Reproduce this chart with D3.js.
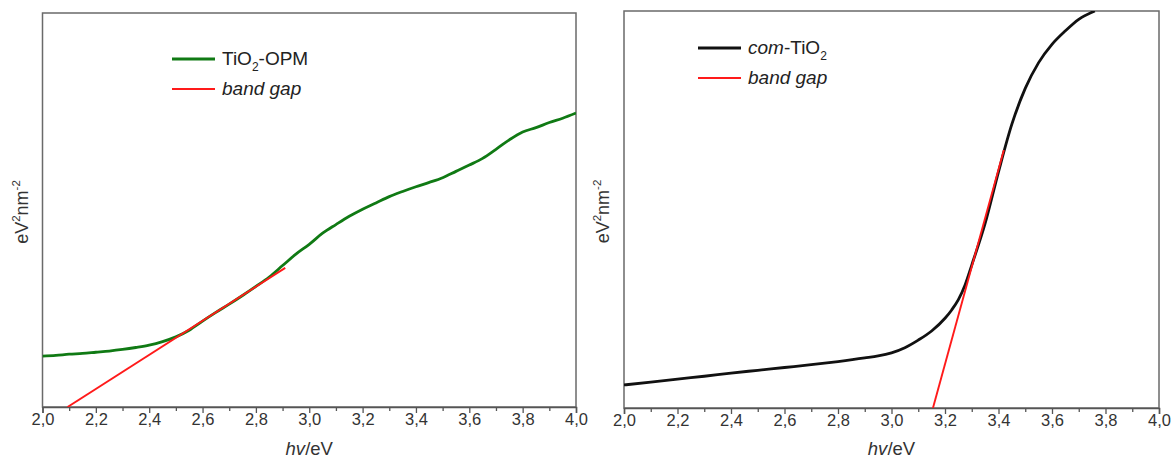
<!DOCTYPE html>
<html>
<head>
<meta charset="utf-8">
<script src="https://cdn.jsdelivr.net/npm/d3@7"></script>
<style>
  html, body { margin: 0; padding: 0; background: #fff; }
  svg { display: block; font-family: "Liberation Sans", Arial, sans-serif; }
</style>
</head>
<body>
<svg id="chart" width="1174" height="459"></svg>
<script>
// Photon energy (eV) and Tauc-plot intensity, arbitrary units (0–100 of the plot height)
const opmEnergy = [2.00, 2.05, 2.10, 2.15, 2.20, 2.25, 2.30, 2.35, 2.40, 2.45, 2.50, 2.55, 2.60, 2.65, 2.70, 2.75, 2.80, 2.85, 2.90, 2.95, 3.00, 3.05, 3.10, 3.15, 3.20, 3.25, 3.30, 3.35, 3.40, 3.45, 3.50, 3.55, 3.60, 3.65, 3.70, 3.75, 3.80, 3.85, 3.90, 3.95, 4.00];
const opmValue  = [12.9, 13.1, 13.4, 13.6, 13.9, 14.2, 14.6, 15.1, 15.7, 16.6, 17.8, 19.5, 21.8, 24.0, 26.1, 28.3, 30.6, 33.0, 35.9, 38.8, 41.3, 44.1, 46.3, 48.4, 50.2, 51.8, 53.4, 54.7, 55.9, 57.0, 58.2, 59.8, 61.4, 63.1, 65.4, 67.8, 69.8, 70.9, 72.2, 73.3, 74.6];
const opmGapEnergy = [2.094, 2.91];
const opmGapValue  = [0, 35.3];

const comEnergy = [2.00, 2.10, 2.20, 2.30, 2.40, 2.50, 2.60, 2.70, 2.80, 2.90, 2.95, 3.00, 3.05, 3.10, 3.15, 3.20, 3.225, 3.25, 3.275, 3.30, 3.35, 3.40, 3.45, 3.50, 3.55, 3.60, 3.65, 3.70, 3.76];
const comValue  = [5.8, 6.5, 7.3, 8.0, 8.8, 9.5, 10.2, 10.9, 11.7, 12.6, 13.1, 13.9, 15.2, 17.1, 19.4, 22.6, 24.7, 27.3, 31.0, 36.0, 46.5, 59.5, 71.5, 80.5, 87.0, 91.6, 95.0, 97.9, 100];
const comGapEnergy = [3.155, 3.42];
const comGapValue  = [0, 65];

const xMajorTicks = [2.0, 2.2, 2.4, 2.6, 2.8, 3.0, 3.2, 3.4, 3.6, 3.8, 4.0];
const xMinorTicks = [2.1, 2.3, 2.5, 2.7, 2.9, 3.1, 3.3, 3.5, 3.7, 3.9];

const locale = d3.formatLocale({decimal: ",", thousands: ".", grouping: [3], currency: ["", ""]});
const fmt = locale.format(".1f");

const svg = d3.select("#chart");

function zip(xs, ys) { return xs.map((x, i) => [x, ys[i]]); }

function panel(opts) {
  const x = d3.scaleLinear().domain([2.0, 4.0]).range([opts.left, opts.right]);
  const y = d3.scaleLinear().domain([0, 100]).range([opts.bottom, opts.top]);
  const g = svg.append("g");

  const clipId = "clip" + opts.id;
  svg.append("clipPath").attr("id", clipId)
    .append("rect")
    .attr("x", opts.left).attr("y", opts.top)
    .attr("width", opts.right - opts.left).attr("height", opts.bottom - opts.top);

  // frame
  g.append("rect")
    .attr("x", opts.left).attr("y", opts.top)
    .attr("width", opts.right - opts.left).attr("height", opts.bottom - opts.top)
    .attr("fill", "none").attr("stroke", "#6a6a6a").attr("stroke-width", 1.5);

  // bottom axis
  const axis = g.append("g").attr("transform", `translate(0,${opts.bottom})`);
  axis.call(d3.axisBottom(x).tickValues(xMajorTicks).tickFormat(fmt).tickSize(6).tickPadding(0));
  axis.select(".domain").attr("stroke", "#555").attr("stroke-width", 1.5);
  axis.selectAll(".tick line").attr("stroke", "#555").attr("stroke-width", 1.3);
  axis.selectAll(".tick text").attr("fill", "#333").attr("font-size", 16.5)
    .attr("font-family", "Liberation Sans, Arial, sans-serif");
  const minor = g.append("g").attr("transform", `translate(0,${opts.bottom})`);
  minor.call(d3.axisBottom(x).tickValues(xMinorTicks).tickFormat("").tickSize(4));
  minor.select(".domain").remove();
  minor.selectAll(".tick line").attr("stroke", "#555").attr("stroke-width", 1.3);

  // x title
  const xt = g.append("text")
    .attr("x", (opts.left + opts.right) / 2).attr("y", 455)
    .attr("text-anchor", "middle").attr("font-size", 18.5).attr("fill", "#333");
  xt.append("tspan").attr("font-style", "italic").text("hv");
  xt.append("tspan").text("/eV");

  // y title
  const yt = g.append("text")
    .attr("transform", `translate(${opts.ytitleX},${(opts.top + opts.bottom) / 2 + 2}) rotate(-90)`)
    .attr("text-anchor", "middle").attr("font-size", 18).attr("fill", "#333");
  yt.append("tspan").text("eV");
  yt.append("tspan").attr("font-size", 11.5).attr("dy", -8).text("2");
  yt.append("tspan").attr("dy", 8).text("nm");
  yt.append("tspan").attr("font-size", 11.5).attr("dy", -8).text("-2");

  const line = d3.line().x(d => x(d[0])).y(d => y(d[1])).curve(d3.curveMonotoneX);
  const plot = g.append("g").attr("clip-path", `url(#${clipId})`);

  plot.append("path").datum(zip(opts.energy, opts.value))
    .attr("d", line).attr("fill", "none")
    .attr("stroke", opts.color).attr("stroke-width", 2.8)
    .attr("stroke-linejoin", "round");
  plot.append("path").datum(zip(opts.gapEnergy, opts.gapValue))
    .attr("d", d3.line().x(d => x(d[0])).y(d => y(d[1])))
    .attr("fill", "none").attr("stroke", "#ff1a1a").attr("stroke-width", 1.9);

  // legend
  const lg = g.append("g");
  lg.append("line").attr("x1", opts.legX).attr("x2", opts.legX + 43)
    .attr("y1", opts.legY).attr("y2", opts.legY)
    .attr("stroke", opts.color).attr("stroke-width", 3.2);
  lg.append("line").attr("x1", opts.legX).attr("x2", opts.legX + 43)
    .attr("y1", opts.legY + 30).attr("y2", opts.legY + 30)
    .attr("stroke", "#ff1a1a").attr("stroke-width", 2);
  const t1 = lg.append("text").attr("x", opts.legX + 50).attr("y", opts.legY + 6)
    .attr("font-size", 19).attr("fill", "#222");
  opts.label(t1);
  lg.append("text").attr("x", opts.legX + 50).attr("y", opts.legY + 36)
    .attr("font-size", 19).attr("font-style", "italic").attr("fill", "#222")
    .text("band gap");
}

panel({
  id: "a", left: 42.5, right: 576, top: 13, bottom: 407, ytitleX: 28,
  energy: opmEnergy, value: opmValue, gapEnergy: opmGapEnergy, gapValue: opmGapValue,
  color: "#107a14", legX: 172, legY: 59,
  label: t => {
    t.append("tspan").text("TiO");
    t.append("tspan").attr("font-size", 12).attr("dy", 6).text("2");
    t.append("tspan").attr("dy", -6).text("-OPM");
  }
});

panel({
  id: "b", left: 624, right: 1159, top: 11, bottom: 408, ytitleX: 609,
  energy: comEnergy, value: comValue, gapEnergy: comGapEnergy, gapValue: comGapValue,
  color: "#111", legX: 698, legY: 48,
  label: t => {
    t.append("tspan").attr("font-style", "italic").text("com");
    t.append("tspan").text("-TiO");
    t.append("tspan").attr("font-size", 12).attr("dy", 6).text("2");
  }
});
</script>
</body>
</html>
